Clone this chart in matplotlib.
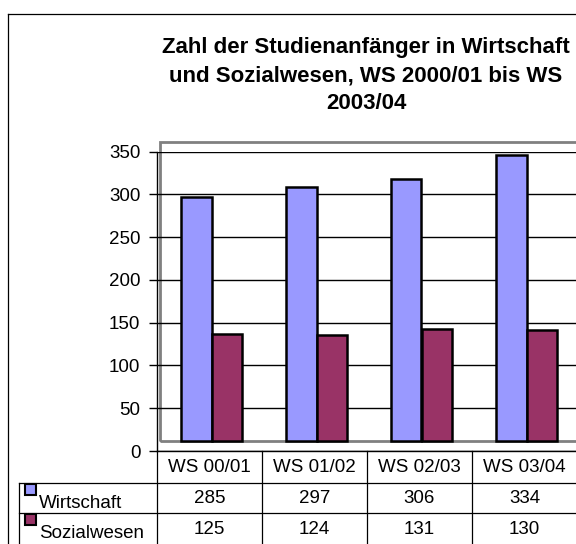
import matplotlib.pyplot as plt
import matplotlib.transforms as mtransforms
from matplotlib.patches import Rectangle
from matplotlib.lines import Line2D
import numpy as np

# data
semesters = ["WS 00/01", "WS 01/02", "WS 02/03", "WS 03/04"]
wirtschaft = [285, 297, 306, 334]
sozialwesen = [125, 124, 131, 130]
series_names = ["Wirtschaft", "Sozialwesen"]
series_colors = ["#9999FF", "#993366"]
title = "Zahl der Studienanfänger in Wirtschaft\nund Sozialwesen, WS 2000/01 bis WS\n2003/04"

plt.rcParams['font.family'] = ['Liberation Sans', 'DejaVu Sans']

W, H = 576, 544
fig = plt.figure(figsize=(W / 100, H / 100), dpi=100)


def fx(px):
    return px / W


def fy(py):
    return 1 - py / H


fs = 13.5

# plot area: x from 157 to 577 px, y=0 at 451 px, y=350 at 151.7 px
ax = fig.add_axes([fx(157), fy(451), (577 - 157) / W, (451 - 151.7) / H])
x = np.arange(len(semesters))
bw = 0.29

# 3d look: bars and wall shifted right/up a little
shift = mtransforms.offset_copy(ax.transData, fig=fig, x=2, y=10, units='dots')
wall_shift = mtransforms.offset_copy(ax.transAxes, fig=fig, x=2.5, y=10, units='dots')

ax.add_patch(Rectangle((0, 0), 1, 1, transform=wall_shift, fill=False,
                       edgecolor='#808080', lw=2, clip_on=False, zorder=0.5))

for vals, off, col in zip([wirtschaft, sozialwesen], [-bw / 2, bw / 2], series_colors):
    bars = ax.bar(x + off, vals, width=bw, color=col, edgecolor='black', lw=1.8, zorder=2)
    for b in bars:
        b.set_transform(shift)
        b.set_clip_on(False)

ax.set_xlim(-0.5, len(semesters) - 0.5)
ax.set_ylim(0, 350)
ax.set_yticks(range(0, 351, 50))
ax.yaxis.grid(True, color='black', lw=1)
ax.set_axisbelow(True)
ax.set_xticks([])
ax.tick_params(axis='y', direction='out', length=6, width=1, labelsize=fs, pad=6)
for s in ['top', 'right']:
    ax.spines[s].set_visible(False)
ax.spines['left'].set_linewidth(1)
ax.spines['bottom'].set_linewidth(1)

fig.text(fx(366), fy(37), title, ha='center', va='top', fontsize=16,
         fontweight='bold', linespacing=1.45)

# data table below the axis
lc = 'black'
col_edges = [157, 262, 367, 472, 577]
row_edges = [451, 483, 513, 545]
lines = []
for cx in col_edges[:-1]:
    lines.append(([fx(cx), fx(cx)], [fy(451), fy(544)]))
lines.append(([fx(19), fx(19)], [fy(483), fy(544)]))
for ry in row_edges[1:3]:
    lines.append(([fx(19), fx(577)], [fy(ry), fy(ry)]))
# chart frame
lines.append(([fx(8), fx(8)], [fy(14), fy(544)]))
lines.append(([fx(8), fx(577)], [fy(14), fy(14)]))
for xs, ys in lines:
    fig.add_artist(Line2D(xs, ys, color=lc, lw=0.9))

for i, sem in enumerate(semesters):
    cx = (col_edges[i] + col_edges[i + 1]) / 2
    fig.text(fx(cx), fy(467), sem, ha='center', va='center', fontsize=fs)
    for r, vals in enumerate([wirtschaft, sozialwesen]):
        cy = (row_edges[r + 1] + row_edges[r + 2]) / 2
        fig.text(fx(cx), fy(cy + 0.5), str(vals[i]), ha='center', va='center', fontsize=fs)

for r, (name, col) in enumerate(zip(series_names, series_colors)):
    top = row_edges[r + 1]
    fig.add_artist(Rectangle((fx(25), fy(top + 12)), 11 / W, 11 / H, facecolor=col,
                             edgecolor='black', lw=1.5))
    fig.text(fx(39), fy(top + 25), name, ha='left', va='baseline', fontsize=fs)

fig.savefig("out.png", dpi=100)
